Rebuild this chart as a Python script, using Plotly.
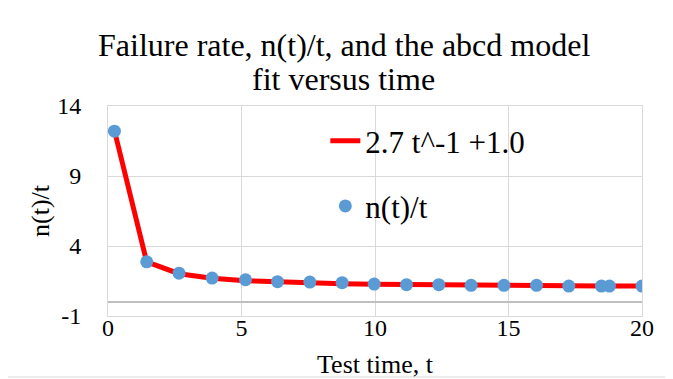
import plotly.graph_objects as go

# Data
test_time = [0.24, 1.45, 2.66, 3.90, 5.15, 6.35, 7.56, 8.77, 9.97, 11.18,
             12.39, 13.60, 14.83, 16.05, 17.26, 18.48, 18.78, 20.00]
failure_rate = [12.20, 2.87, 2.06, 1.71, 1.59, 1.45, 1.42, 1.38, 1.28, 1.24,
                1.24, 1.19, 1.19, 1.19, 1.14, 1.14, 1.14, 1.14]
model_fit = [12.25, 2.86, 2.02, 1.69, 1.52, 1.43, 1.36, 1.31, 1.27, 1.24,
             1.22, 1.20, 1.18, 1.17, 1.16, 1.15, 1.14, 1.14]

x_ticks = [0, 5, 10, 15, 20]
x_tick_text = ["0", "5", "10", "15", "20"]
y_ticks = [-1, 4, 9, 14]
y_tick_text = ["-1", "4", "9", "14"]

title_line1 = "Failure rate, n(t)/t, and the abcd model"
title_line2 = "fit versus time"
fit_label = "2.7 t^-1 +1.0"
data_label = "n(t)/t"
x_title = "Test time, t"
y_title = "n(t)/t"

FONT = "Liberation Serif"
GRID = "#d9d9d9"
W, H = 673, 379
OFF = 8  # page body margin offset
# desired plot area in window pixels: left 108, right 642, top 106, bottom 316
L, T = 108 - OFF, 106 - OFF
R = W - (642 - OFF)
B = H - (316 - OFF)
pw, ph = W - L - R, H - T - B


def py(win_y):
    """window pixel y -> paper y"""
    return ((T + ph) - (win_y - OFF)) / ph


def px(win_x):
    """window pixel x -> paper x"""
    return ((win_x - OFF) - L) / pw


fig = go.Figure()
fig.add_trace(go.Scatter(
    x=test_time, y=model_fit, mode="lines", name=fit_label,
    line=dict(color="#ff0000", width=5), legendgroup="a",
))
fig.add_trace(go.Scatter(
    x=test_time, y=failure_rate, mode="markers", name=data_label,
    marker=dict(color="#5b9bd5", size=13), legendgroup="b",
))

fig.update_layout(
    width=W, height=H,
    margin=dict(l=L, r=R, t=T, b=B, autoexpand=False),
    paper_bgcolor="white", plot_bgcolor="white",
    font=dict(family=FONT, color="black", size=24),
    legend=dict(x=0.407, y=0.962, xanchor="left", yanchor="top",
                bgcolor="rgba(0,0,0,0)",
                font=dict(family=FONT, size=31, color="black"),
                tracegroupgap=22, traceorder="grouped"),
    xaxis=dict(range=[0, 20], tickvals=x_ticks, ticktext=x_tick_text,
               showgrid=True, gridcolor=GRID, gridwidth=1, zeroline=False,
               showline=True, linecolor=GRID, mirror=True, automargin=False,
               tickfont=dict(family=FONT, size=24, color="black"),
               ticklabelstandoff=-10,
               title=dict(text=x_title,
                          font=dict(family=FONT, size=26, color="black"))),
    yaxis=dict(range=[-1, 14], tickvals=y_ticks, ticktext=y_tick_text,
               showgrid=True, gridcolor=GRID, gridwidth=1, zeroline=True,
               zerolinecolor="#bfbfbf", zerolinewidth=1.5, showline=True,
               linecolor=GRID, mirror=True, automargin=False,
               tickfont=dict(family=FONT, size=24, color="black"),
               ticklabelstandoff=21,
               title=dict(text=y_title, standoff=0,
                          font=dict(family=FONT, size=26, color="black"))),
    showlegend=True,
)

# chart title (two lines, tight spacing), centred on the chart box
fig.add_annotation(text=title_line1, xref="paper", yref="paper",
                   x=px(344), y=py(45), xanchor="center", yanchor="middle",
                   showarrow=False,
                   font=dict(family=FONT, size=32, color="black"))
fig.add_annotation(text=title_line2, xref="paper", yref="paper",
                   x=px(343), y=py(79), xanchor="center", yanchor="middle",
                   showarrow=False,
                   font=dict(family=FONT, size=32, color="black"))

# light outer chart border
fig.add_shape(type="rect", xref="paper", yref="paper",
              x0=px(6), x1=px(672), y0=py(377), y1=py(1),
              line=dict(color=GRID, width=1), fillcolor="rgba(0,0,0,0)",
              layer="below")

fig.write_html("out.html")
